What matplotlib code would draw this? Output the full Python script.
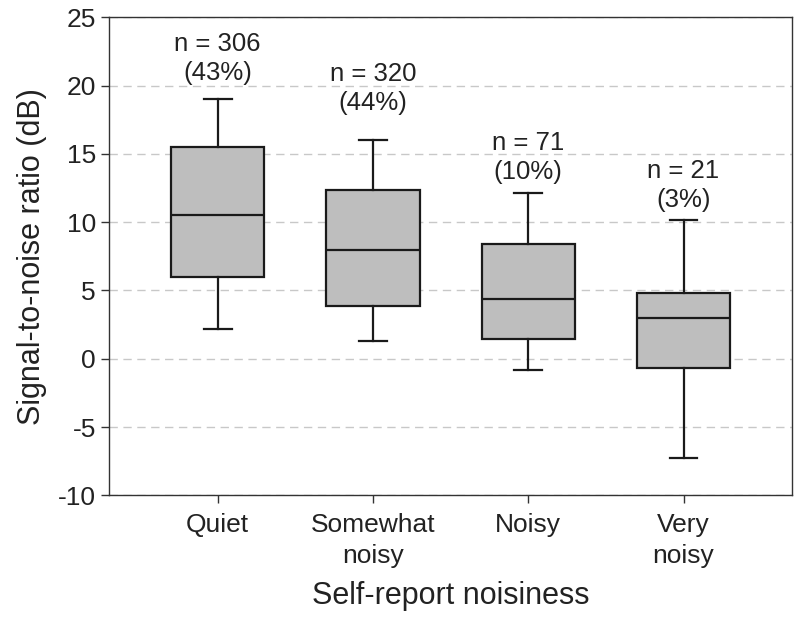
import matplotlib
matplotlib.use('Agg')
import matplotlib.pyplot as plt

plt.rcParams['font.family'] = ['Liberation Sans', 'DejaVu Sans']
plt.rcParams['axes.unicode_minus'] = False

# Box statistics (dB)
categories = ['Quiet', 'Somewhat\nnoisy', 'Noisy', 'Very\nnoisy']
whisker_low = [2.17, 1.3, -0.85, -7.24]
q1 = [5.98, 3.83, 1.44, -0.68]
medians = [10.56, 7.95, 4.34, 3.0]
q3 = [15.54, 12.32, 8.37, 4.8]
whisker_high = [19.0, 16.0, 12.12, 10.17]
counts = [306, 320, 71, 21]
percents = [43, 44, 10, 3]

stats = []
for i in range(len(categories)):
    stats.append(dict(whislo=whisker_low[i], q1=q1[i], med=medians[i],
                      q3=q3[i], whishi=whisker_high[i], fliers=[]))

fig = plt.figure(figsize=(8, 6.18), dpi=100)
ax = fig.add_axes([0.13625, 0.1985, 0.854, 0.7735])

pos = range(1, len(categories) + 1)
ax.bxp(stats, positions=pos, widths=0.6, capwidths=0.18, patch_artist=True,
       showfliers=False,
       boxprops=dict(facecolor='#bebebe', edgecolor='#1a1a1a', linewidth=1.6),
       medianprops=dict(color='#1a1a1a', linewidth=1.6),
       whiskerprops=dict(color='#1a1a1a', linewidth=1.6),
       capprops=dict(color='#1a1a1a', linewidth=1.6))

# n labels above the upper whiskers
label_offsets = [3.0, 3.8, 2.6, 2.5]
for x, top, n, p, off in zip(pos, whisker_high, counts, percents, label_offsets):
    ax.text(x, top + off, f'n = {n}\n({p}%)', ha='center', va='center',
            fontsize=18.5, color='#222222', linespacing=1.25)

ax.set_xlim(0.3, 4.7)
ax.set_ylim(-10, 25)
ax.set_yticks(range(-10, 30, 5))
ax.set_xticks(list(pos))
ax.set_xticklabels(categories, fontsize=19, color='#222222', linespacing=1.35)
ax.tick_params(axis='y', labelsize=19, labelcolor='#222222')
ax.tick_params(axis='x', pad=7)
ax.tick_params(direction='out', length=6, width=1, color='#333333')

ax.set_axisbelow(True)
ax.grid(axis='y', linestyle=(0, (6, 4)), color='#c8c8c8', linewidth=1)
for s in ax.spines.values():
    s.set_color('#333333')
    s.set_linewidth(1.0)

ax.set_ylabel('Signal-to-noise ratio (dB)', fontsize=22, color='#222222', labelpad=8)
ax.set_xlabel('Self-report noisiness', fontsize=22, color='#222222', labelpad=9)

fig.savefig('out.png', dpi=100)
